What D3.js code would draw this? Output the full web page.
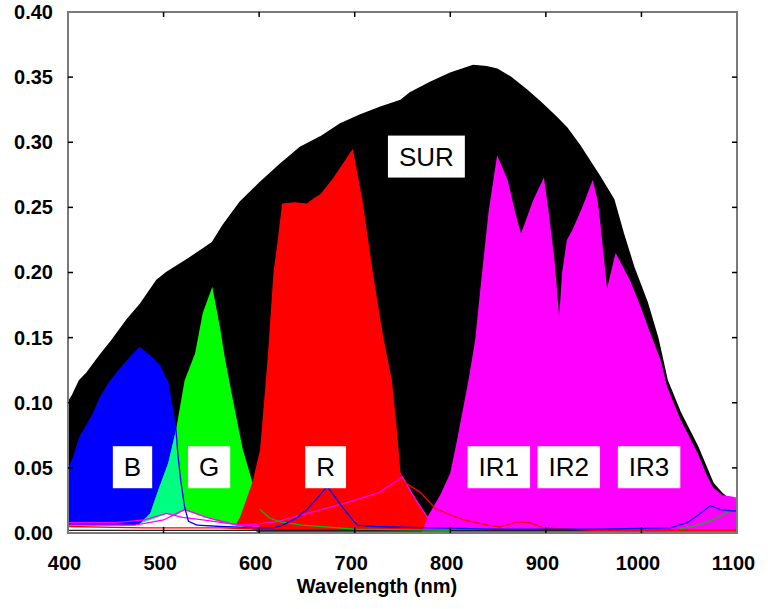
<!DOCTYPE html>
<html>
<head>
<meta charset="utf-8">
<script src="https://cdn.jsdelivr.net/npm/d3@7"></script>
<style>
  body { margin: 0; background: #fff; }
  svg text { font-family: "Liberation Sans", Arial, sans-serif; }
</style>
</head>
<body>
<svg id="chart" width="768" height="609"></svg>
<script>
// Solar irradiance at the surface (SUR) and per-band signals, as [wavelength nm, value]
const sur = [[400,0.100],[405,0.106],[412,0.117],[420,0.123],[432,0.135],[444,0.146],[462,0.164],[475,0.175],[493,0.194],[503,0.200],[525,0.210],[551,0.223],[562,0.236],[580,0.254],[601,0.269],[622,0.283],[643,0.296],[664,0.304],[685,0.314],[706,0.321],[727,0.327],[748,0.332],[758,0.338],[779,0.346],[800,0.353],[824,0.359],[838,0.358],[849,0.356],[863,0.350],[880,0.340],[894,0.331],[910,0.320],[922,0.311],[935,0.298],[943,0.289],[957,0.273],[971,0.256],[981,0.230],[992,0.204],[1006,0.177],[1017,0.150],[1027,0.117],[1041,0.092],[1059,0.066],[1075,0.038],[1085,0.030],[1096,0.023],[1100,0.021]];

// Main pass bands (filled)
const bandB = [[400,0.050],[405,0.058],[412,0.074],[420,0.084],[426,0.092],[433,0.104],[444,0.117],[455,0.127],[467,0.137],[475,0.143],[483,0.138],[490,0.134],[497,0.128],[504,0.117],[510,0.092],[513,0.079],[515,0.060],[518,0.040],[522,0.020],[526,0.009],[535,0.006]];
const bandG = [[472,0.004],[479,0.010],[486,0.015],[495,0.034],[505,0.054],[513,0.079],[522,0.117],[533,0.138],[541,0.169],[551,0.189],[559,0.158],[564,0.135],[571,0.108],[578,0.082],[583,0.064],[593,0.039],[598,0.025],[601,0.018]];
const bandR = [[574,0.004],[580,0.012],[593,0.039],[601,0.064],[609,0.135],[615,0.200],[620,0.228],[624,0.253],[637,0.254],[650,0.253],[657,0.257],[664,0.260],[677,0.272],[698,0.295],[708,0.256],[719,0.200],[730,0.150],[739,0.117],[744,0.080],[748,0.046],[750,0.043],[760,0.030],[776,0.012],[782,0.004]];
const bandIR1 = [[770,0],[776,0.012],[790,0.030],[800,0.046],[807,0.071],[819,0.117],[826,0.148],[831,0.184],[840,0.246],[849,0.290],[860,0.271],[868,0.246],[874,0.230],[885,0.190],[900,0.120],[920,0.050],[940,0.010],[950,0]];
const bandIR2 = [[845,0],[860,0.160],[874,0.230],[887,0.256],[898,0.273],[903,0.246],[909,0.210],[914,0.166],[920,0.120],[935,0.040],[950,0]];
const bandIR3 = [[905,0],[914,0.166],[917,0.200],[922,0.225],[928,0.233],[938,0.250],[949,0.271],[954,0.256],[957,0.238],[964,0.188],[973,0.215],[988,0.194],[999,0.174],[1009,0.154],[1020,0.133],[1027,0.112],[1041,0.087],[1050,0.074],[1059,0.061],[1068,0.045],[1075,0.035],[1085,0.029],[1095,0.028],[1100,0.027]];

// Out-of-band leaks (drawn as thin lines)
const leakB = [[535,0.006],[560,0.005],[600,0.004],[615,0.004],[625,0.006],[640,0.012],[650,0.018],[660,0.026],[669,0.034],[672,0.035],[688,0.019],[699,0.009],[703,0.006],[720,0.005],[780,0.004],[850,0.003],[950,0.003],[1030,0.004],[1048,0.008],[1060,0.014],[1072,0.021],[1083,0.018],[1093,0.017],[1100,0.017]];
const leakG = [[601,0.018],[611,0.0115],[622,0.0085],[645,0.006],[700,0.003],[800,0.002]];
const leakG2 = [[1040,0.003],[1059,0.006],[1075,0.010],[1085,0.014],[1096,0.018],[1100,0.018]];
const leakR = [[750,0.040],[769,0.031],[784,0.019],[800,0.014],[814,0.010],[839,0.006],[852,0.0046],[870,0.0085],[884,0.0077],[897,0.004],[950,0.002],[1100,0.002]];
const leakR2 = [[400,0.005],[480,0.004],[560,0.004],[600,0.003]];
const leakIR = [[400,0.008],[450,0.008],[480,0.010],[503,0.015],[520,0.012],[541,0.010],[580,0.006],[600,0.007],[620,0.009],[632,0.0115],[660,0.017],[690,0.023],[725,0.031],[750,0.043],[760,0.030],[776,0.012],[790,0.006]];
const leakIR2 = [[400,0.006],[470,0.006],[500,0.010],[522,0.018],[545,0.012],[577,0.006],[600,0.005]];
const baseFill = [[400,0.006],[470,0.006],[490,0.011],[503,0.015],[512,0.013],[522,0.018],[545,0.012],[560,0.008],[577,0.006],[590,0.004],[600,0]];
const baseline = [[400,0.002],[1100,0.002]];

// Band labels: text, wavelength, value of label centre
const labelText = ["SUR", "B", "G", "R", "IR1", "IR2", "IR3"];
const labelNm   = [775, 467.5, 547.6, 669.6, 850.8, 924, 1008];
const labelVal  = [0.289, 0.0505, 0.0505, 0.0505, 0.0505, 0.0505, 0.0505];

// Axis ticks
const xTicks = [400, 500, 600, 700, 800, 900, 1000, 1100];
const yTicks = [0, 0.05, 0.10, 0.15, 0.20, 0.25, 0.30, 0.35, 0.40];

const svg = d3.select("#chart");
const x = d3.scaleLinear().domain([400, 1100]).range([68, 737]);
const y = d3.scaleLinear().domain([0, 0.4]).range([533, 12]);

const area = d3.area().x(d => x(d[0])).y0(y(0)).y1(d => y(d[1]));
const line = d3.line().x(d => x(d[0])).y(d => y(d[1]));

svg.append("defs").append("clipPath").attr("id", "plot")
  .append("rect").attr("x", 68).attr("y", 12).attr("width", 669).attr("height", 521);

const g = svg.append("g").attr("clip-path", "url(#plot)");

// linear interpolation along a band, 0 outside its span
function valueAt(arr, w) {
  if (w < arr[0][0] || w > arr[arr.length - 1][0]) return 0;
  for (let i = 1; i < arr.length; i++) {
    if (w <= arr[i][0]) {
      const [x0, y0] = arr[i - 1], [x1, y1] = arr[i];
      return y0 + (y1 - y0) * (w - x0) / (x1 - x0);
    }
  }
  return 0;
}
// region where the blue and green bands overlap
const overlapBG = d3.range(472, 535.5, 0.5).map(w => [w, Math.min(valueAt(bandB, w), valueAt(bandG, w))]);

g.append("path").datum(sur).attr("d", area).attr("fill", "#000").attr("stroke", "#000").attr("stroke-width", 1.5);
g.append("path").datum(bandB).attr("d", area).attr("fill", "#0000ff");
g.append("path").datum(bandG).attr("d", area).attr("fill", "#00ff00");
g.append("path").datum(overlapBG).attr("d", area).attr("fill", "#00ff80");
g.append("path").datum(bandR).attr("d", area).attr("fill", "#ff0000");
[bandIR1, bandIR2, bandIR3].forEach(b =>
  g.append("path").datum(b).attr("d", area).attr("fill", "#ff00ff"));
g.append("path").datum(baseFill).attr("d", area).attr("fill", "#ffffff");

const lines = [
  [baseline, "#222222"],
  [leakR2, "#ff0000"],
  [leakIR2, "#ff00ff"],
  [leakIR, "#ff00ff"],
  [leakR, "#ff0000"],
  [leakG, "#00c000"],
  [leakG2, "#00c000"],
  [bandB.slice(-8), "#0000ff"],
  [leakB, "#0000ff"]
];
lines.forEach(([d, c]) =>
  g.append("path").datum(d).attr("d", line).attr("fill", "none")
    .attr("stroke", c).attr("stroke-width", 1.3));

// Frame
svg.append("rect").attr("x", 68).attr("y", 12).attr("width", 669).attr("height", 521)
  .attr("fill", "none").attr("stroke", "#7a7a7a").attr("stroke-width", 2);

// Inward ticks on all four sides
const tickG = svg.append("g").attr("stroke", "#000").attr("stroke-width", 1.5);
xTicks.slice(1, -1).forEach(t => {
  tickG.append("line").attr("x1", x(t)).attr("x2", x(t)).attr("y1", 533).attr("y2", 527);
  tickG.append("line").attr("x1", x(t)).attr("x2", x(t)).attr("y1", 12).attr("y2", 17);
});
yTicks.slice(1, -1).forEach(t => {
  tickG.append("line").attr("x1", 68).attr("x2", 73).attr("y1", y(t)).attr("y2", y(t));
  tickG.append("line").attr("x1", 737).attr("x2", 732).attr("y1", y(t)).attr("y2", y(t));
});

// Tick labels
const yAxis = d3.axisLeft(y).tickValues(yTicks).tickFormat(d3.format(".2f")).tickSize(0).tickPadding(15);
const ya = svg.append("g").attr("transform", "translate(68,0)").call(yAxis);
ya.select(".domain").remove();
ya.selectAll("text").attr("font-size", 20).attr("font-weight", "bold").attr("fill", "#000")
  .style("font-family", "'Liberation Sans', Arial, sans-serif");

const xAxis = d3.axisBottom(x).tickValues(xTicks).tickFormat(d3.format("d")).tickSize(0).tickPadding(23);
const xa = svg.append("g").attr("transform", "translate(0,533)").call(xAxis);
xa.select(".domain").remove();
xa.selectAll("text").attr("font-size", 20).attr("font-weight", "bold").attr("fill", "#000")
  .attr("dx", -4).style("font-family", "'Liberation Sans', Arial, sans-serif");

svg.append("text").attr("x", 377).attr("y", 593).attr("text-anchor", "middle")
  .attr("font-size", 20).attr("font-weight", "bold").text("Wavelength (nm)");

// Band labels in white boxes
labelText.forEach((t, i) => {
  const cx = x(labelNm[i]), cy = y(labelVal[i]);
  const lg = svg.append("g");
  const rect = lg.append("rect").attr("fill", "#fff");
  const txt = lg.append("text").attr("x", cx).attr("y", cy).attr("text-anchor", "middle")
    .attr("dominant-baseline", "central").attr("font-size", 26).attr("fill", "#000").text(t);
  const w = txt.node().getComputedTextLength() + 22;
  rect.attr("x", cx - w / 2).attr("y", cy - 21).attr("width", w).attr("height", 42);
});
</script>
</body>
</html>
